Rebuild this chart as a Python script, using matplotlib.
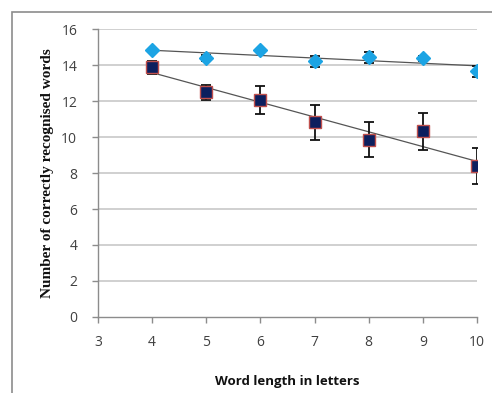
import numpy as np
import matplotlib.pyplot as plt
from matplotlib.patches import Rectangle

word_len = [4, 5, 6, 7, 8, 9, 10]

# light blue diamonds
diamond_y = [14.87, 14.42, 14.84, 14.22, 14.45, 14.39, 13.67]
diamond_err = [0.0, 0.15, 0.0, 0.32, 0.29, 0.12, 0.32]

# dark squares
square_y = [13.89, 12.49, 12.09, 10.82, 9.87, 10.32, 8.39]
square_err = [0.37, 0.44, 0.78, 0.98, 1.0, 1.02, 0.99]

y_ticks = [0, 2, 4, 6, 8, 10, 12, 14, 16]
x_ticks = [3, 4, 5, 6, 7, 8, 9, 10]

fig = plt.figure(figsize=(4.92, 3.93), dpi=100)
ax = fig.add_axes([0.1992, 0.194, 0.7703, 0.731])

# outer chart frame (only left/top visible in the crop)
fig.patches.append(Rectangle((12 / 492, -0.1), 1.2, 1 - 12 / 393 + 0.1,
                             transform=fig.transFigure, fill=False,
                             edgecolor='#8c8c8c', linewidth=1.2))

for yt in y_ticks[1:]:
    ax.axhline(yt, color='#c8c8c8', linewidth=1.2, zorder=0)

x = np.array(word_len)
for yv in [diamond_y, square_y]:
    k, b = np.polyfit(x, yv, 1)
    ax.plot(x, k * x + b, color='#555555', linewidth=0.9, zorder=2)

ax.errorbar(word_len, square_y, yerr=square_err, fmt='none', ecolor='#111111',
            elinewidth=1.3, capsize=3.5, capthick=1.3, zorder=3)
ax.plot(word_len, square_y, linestyle='none', marker='s', markersize=9,
        markerfacecolor='#0c1f5e', markeredgecolor='#c0504d', markeredgewidth=1, zorder=4)

ax.errorbar(word_len, diamond_y, yerr=diamond_err, fmt='none', ecolor='#111111',
            elinewidth=1.3, capsize=3.5, capthick=1.3, zorder=3)
ax.plot(word_len, diamond_y, linestyle='none', marker='D', markersize=7,
        markerfacecolor='#1ca4e4', markeredgecolor='#1ca4e4', zorder=5)

ax.set_xlim(3, 10)
ax.set_ylim(0, 16)
ax.set_xticks(x_ticks)
ax.set_yticks(y_ticks)
for s in ['top', 'right']:
    ax.spines[s].set_visible(False)
for s in ['left', 'bottom']:
    ax.spines[s].set_color('#8c8c8c')
    ax.spines[s].set_linewidth(1)
ax.tick_params(axis='both', colors='#8c8c8c', length=4, width=1,
               labelcolor='#404040', labelsize=10)
ax.tick_params(axis='x', pad=9)
ax.tick_params(axis='y', pad=11)
for lab in ax.get_xticklabels() + ax.get_yticklabels():
    lab.set_fontfamily('Open Sans')

ax.set_xlabel('Word length in letters', fontfamily='Open Sans', fontweight='bold',
              fontsize=9.5, color='#111111', labelpad=18)
ax.set_ylabel('Number of correctly recognised words', fontfamily='Liberation Serif',
              fontweight='bold', fontsize=11, color='#111111', labelpad=5)

fig.savefig('out.png', dpi=100)
